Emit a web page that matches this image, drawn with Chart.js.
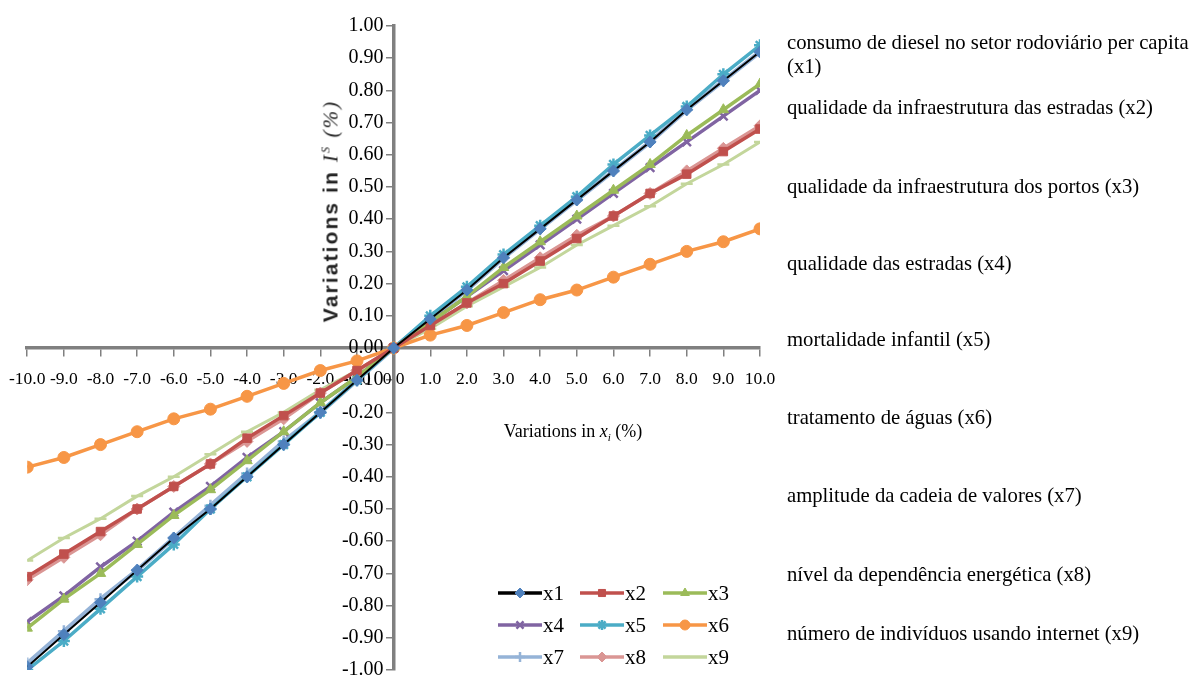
<!DOCTYPE html>
<html>
<head>
<meta charset="utf-8">
<script src="https://cdn.jsdelivr.net/npm/chart.js@4"></script>
<style>
  html, body { margin: 0; background: #fff; overflow: hidden; }
  #wrap { position: absolute; left: -5px; top: 2px; width: 1195px; height: 683px; }
  .note { position: absolute; left: 787px; font: 20.7px "Liberation Serif", serif; color: #000; white-space: nowrap; line-height: 24px; }
  #ytitle { position: absolute; left: 331px; top: 211px; transform: translate(-50%, -50%) rotate(-90deg); font: bold 21px "Liberation Sans", Arial, sans-serif; letter-spacing: 2.1px; white-space: nowrap; color: #222; }
  #ytitle .ser { font-family: "Liberation Serif", serif; font-weight: normal; font-style: italic; }
  #xtitle { position: absolute; left: 573px; top: 432px; transform: translate(-50%, -50%); font: 18px "Liberation Serif", serif; white-space: nowrap; }
</style>
</head>
<body>
<div id="wrap"><canvas id="chart"></canvas></div>
<div id="ytitle">Variations in <span class="ser">I<sup style="font-size:12px">S</sup> (%)</span></div>
<div id="xtitle">Variations in <i>x</i><sub style="font-size:11px"><i>i</i></sub> (%)</div>
<div class="note" style="top:30px">consumo de diesel no setor rodoviário per capita<br>(x1)</div>
<div class="note" style="top:95px">qualidade da infraestrutura das estradas (x2)</div>
<div class="note" style="top:174px">qualidade da infraestrutura dos portos (x3)</div>
<div class="note" style="top:251px">qualidade das estradas (x4)</div>
<div class="note" style="top:327px">mortalidade infantil (x5)</div>
<div class="note" style="top:405px">tratamento de águas (x6)</div>
<div class="note" style="top:483px">amplitude da cadeia de valores (x7)</div>
<div class="note" style="top:562px">nível da dependência energética (x8)</div>
<div class="note" style="top:621px">número de indivíduos usando internet (x9)</div>
<script>
// variações em x_i (%)
const xValues = [-10, -9, -8, -7, -6, -5, -4, -3, -2, -1, 0, 1, 2, 3, 4, 5, 6, 7, 8, 9, 10];

const x1 = [-0.99, -0.89, -0.79, -0.69, -0.59, -0.50, -0.40, -0.30, -0.20, -0.10, 0, 0.09, 0.18, 0.28, 0.37, 0.46, 0.55, 0.64, 0.74, 0.83, 0.92];
const x2 = [-0.71, -0.64, -0.57, -0.50, -0.43, -0.36, -0.28, -0.21, -0.14, -0.07, 0, 0.07, 0.14, 0.20, 0.27, 0.34, 0.41, 0.48, 0.54, 0.61, 0.68];
const x3 = [-0.87, -0.78, -0.70, -0.61, -0.52, -0.44, -0.35, -0.26, -0.17, -0.09, 0, 0.08, 0.16, 0.25, 0.33, 0.41, 0.49, 0.57, 0.66, 0.74, 0.82];
const x4 = [-0.85, -0.77, -0.68, -0.60, -0.51, -0.43, -0.34, -0.26, -0.17, -0.09, 0, 0.08, 0.16, 0.24, 0.32, 0.40, 0.48, 0.56, 0.64, 0.72, 0.80];
const x5 = [-1.00, -0.91, -0.81, -0.71, -0.61, -0.50, -0.40, -0.30, -0.20, -0.10, 0, 0.10, 0.19, 0.29, 0.38, 0.47, 0.57, 0.66, 0.75, 0.85, 0.94];
const x6 = [-0.37, -0.34, -0.30, -0.26, -0.22, -0.19, -0.15, -0.11, -0.07, -0.04, 0, 0.04, 0.07, 0.11, 0.15, 0.18, 0.22, 0.26, 0.30, 0.33, 0.37];
const x7 = [-0.98, -0.88, -0.78, -0.69, -0.59, -0.49, -0.39, -0.29, -0.20, -0.10, 0, 0.09, 0.18, 0.28, 0.37, 0.46, 0.55, 0.64, 0.74, 0.83, 0.92];
const x8 = [-0.72, -0.65, -0.58, -0.50, -0.43, -0.36, -0.29, -0.22, -0.14, -0.07, 0, 0.07, 0.14, 0.21, 0.28, 0.35, 0.41, 0.48, 0.55, 0.62, 0.69];
const x9 = [-0.66, -0.59, -0.53, -0.46, -0.40, -0.33, -0.26, -0.20, -0.13, -0.07, 0, 0.06, 0.13, 0.19, 0.25, 0.32, 0.38, 0.44, 0.51, 0.57, 0.64];

const seriesNames = ['x1', 'x2', 'x3', 'x4', 'x5', 'x6', 'x7', 'x8', 'x9'];
const seriesData = [x1, x2, x3, x4, x5, x6, x7, x8, x9];

const lineColors   = ['#000000', '#C0504D', '#9BBB59', '#8064A2', '#4BACC6', '#F79646', '#95B3D7', '#DA9694', '#C3D69B'];
const markerColors = ['#4F81BD', '#C0504D', '#9BBB59', '#8064A2', '#4BACC6', '#F79646', '#95B3D7', '#DA9694', '#C3D69B'];
const markers = ['rectRot', 'rect', 'triangle', 'crossRot', 'star', 'circle', 'cross', 'rectRot', 'line'];
const lineWidths = [2, 3.5, 3.5, 3.5, 3.5, 3.5, 4.5, 3.5, 3];
const thinMarker = ['crossRot', 'star', 'cross', 'line'];

const serif = '"Liberation Serif", "Times New Roman", serif';

const datasets = seriesNames.map((name, i) => ({
  label: name,
  data: xValues.map((x, j) => ({ x: x, y: seriesData[i][j] })),
  borderColor: lineColors[i],
  backgroundColor: markerColors[i],
  pointBorderColor: markerColors[i],
  pointBackgroundColor: markerColors[i],
  pointStyle: markers[i],
  pointRadius: 6,
  pointBorderWidth: thinMarker.includes(markers[i]) ? 2.5 : 1,
  borderWidth: lineWidths[i],
  tension: 0
}));

// legenda em 3 colunas dentro da área do gráfico
const legendGrid = {
  id: 'legendGrid',
  afterDraw(chart) {
    const ctx = chart.ctx;
    const off = 5; // o canvas começa 5px à esquerda da página
    const cols = [498 + off, 580 + off, 663 + off];
    const rows = [591, 623, 655];
    ctx.save();
    seriesNames.forEach((name, i) => {
      const x = cols[i % 3], y = rows[Math.floor(i / 3)];
      ctx.strokeStyle = lineColors[i];
      ctx.lineWidth = 3.5;
      ctx.beginPath();
      ctx.moveTo(x, y);
      ctx.lineTo(x + 44, y);
      ctx.stroke();
      const ds = chart.data.datasets[i];
      ctx.fillStyle = markerColors[i];
      ctx.strokeStyle = markerColors[i];
      ctx.lineWidth = ds.pointBorderWidth;
      Chart.helpers.drawPoint(ctx, { pointStyle: markers[i], radius: 5, borderWidth: ds.pointBorderWidth, rotation: 0 }, x + 22, y);
      ctx.fillStyle = '#000';
      ctx.font = '21px ' + serif;
      ctx.textBaseline = 'middle';
      ctx.textAlign = 'left';
      ctx.fillText(name, x + 45, y + 1);
    });
    ctx.restore();
  }
};

new Chart(document.getElementById('chart'), {
  type: 'line',
  data: { datasets },
  options: {
    responsive: true,
    maintainAspectRatio: false,
    animation: false,
    layout: { padding: { left: 27, right: 430, top: 24, bottom: 0 } },
    plugins: { legend: { display: false }, tooltip: { enabled: false } },
    scales: {
      x: {
        type: 'linear',
        min: -10,
        max: 10,
        position: { y: 0 },
        border: { color: '#808080', width: 3.5 },
        grid: { drawOnChartArea: false, drawTicks: true, tickLength: 7, color: '#808080', lineWidth: 1.5 },
        ticks: {
          stepSize: 1,
          autoSkip: false,
          maxRotation: 0,
          padding: 14,
          color: '#000',
          font: { family: serif, size: 17.5 },
          callback: v => v.toFixed(1)
        }
      },
      y: {
        type: 'linear',
        min: -1,
        max: 1,
        position: { x: 0 },
        border: { color: '#808080', width: 3.5 },
        grid: { drawOnChartArea: false, drawTicks: true, tickLength: 6, color: '#808080', lineWidth: 1.5 },
        ticks: {
          stepSize: 0.1,
          autoSkip: false,
          color: '#000',
          font: { family: serif, size: 20 },
          callback: v => v.toFixed(2) + '  '
        }
      }
    }
  },
  plugins: [legendGrid]
});
</script>
</body>
</html>
